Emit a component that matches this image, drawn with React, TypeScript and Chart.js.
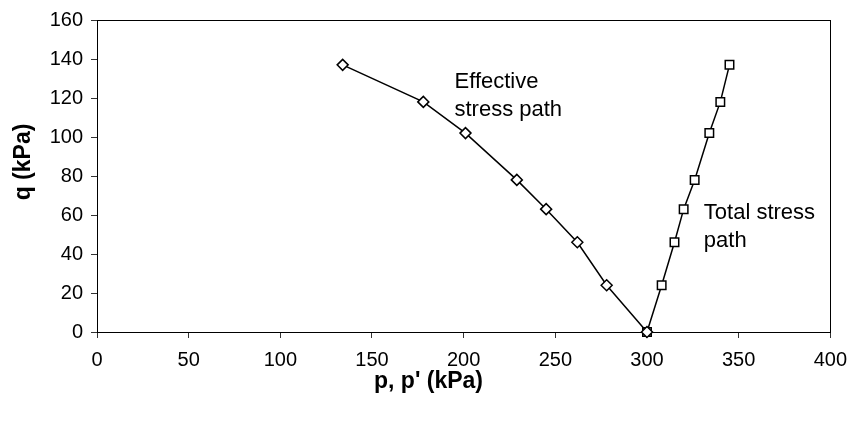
import React, { useEffect, useRef } from "react";
import { Chart, registerables } from "chart.js";

Chart.register(...registerables);

// Deviator stress q (kPa) at each loading stage, shared by both paths
const qValues = [0, 24, 46, 63, 78, 102, 118, 137];
// Mean effective stress p' (kPa)
const effectiveP = [300, 278, 262, 245, 229, 201, 178, 134];
// Mean total stress p (kPa)
const totalP = [300, 308, 315, 320, 326, 334, 340, 345];

const xMin = 0;
const xMax = 400;
const xStep = 50;
const yMin = 0;
const yMax = 160;
const yStep = 20;

const xTitle = "p, p' (kPa)";
const yTitle = "q (kPa)";
const effectiveLabel = ["Effective", "stress path"];
const totalLabel = ["Total stress", "path"];

const FONT = "'Liberation Sans', Arial, Helvetica, sans-serif";

const framePlugin = {
  id: "frame",
  beforeDatasetsDraw(chart: any) {
    const { ctx, chartArea } = chart;
    ctx.save();
    ctx.strokeStyle = "#000";
    ctx.lineWidth = 1;
    ctx.strokeRect(
      Math.round(chartArea.left) + 0.5,
      Math.round(chartArea.top) + 0.5,
      Math.round(chartArea.right - chartArea.left),
      Math.round(chartArea.bottom - chartArea.top)
    );
    ctx.restore();
  },
  afterDraw(chart: any) {
    const { ctx, scales, width } = chart;
    const xs = scales.x;
    const ys = scales.y;
    ctx.save();
    ctx.fillStyle = "#000";

    // axis titles
    ctx.font = `bold 23px ${FONT}`;
    ctx.textAlign = "center";
    ctx.textBaseline = "middle";
    ctx.fillText(xTitle, width / 2, 382);
    ctx.save();
    ctx.translate(24, 162);
    ctx.rotate(-Math.PI / 2);
    ctx.fillText(yTitle, 0, 0);
    ctx.restore();

    // path annotations anchored in data space
    ctx.font = `22px ${FONT}`;
    ctx.textAlign = "left";
    ctx.textBaseline = "alphabetic";
    const drawLines = (lines: string[], p: number, q: number) => {
      const x = xs.getPixelForValue(p);
      const y = ys.getPixelForValue(q);
      lines.forEach((s, i) => ctx.fillText(s, x, y + i * 28));
    };
    drawLines(effectiveLabel, 195, 125);
    drawLines(totalLabel, 331, 58);
    ctx.restore();
  },
};

export default function App() {
  const ref = useRef<HTMLCanvasElement>(null);

  useEffect(() => {
    if (!ref.current) return;
    const toPoints = (ps: number[]) => ps.map((p, i) => ({ x: p, y: qValues[i] }));
    const chart = new Chart(ref.current, {
      type: "line",
      data: {
        datasets: [
          {
            label: "Effective stress path",
            data: toPoints(effectiveP),
            borderColor: "#000",
            borderWidth: 1.5,
            pointStyle: "rectRot",
            pointRadius: 5.5,
            pointBorderWidth: 1.5,
            pointBackgroundColor: "#fff",
            pointBorderColor: "#000",
            showLine: true,
            clip: false,
          },
          {
            label: "Total stress path",
            data: toPoints(totalP),
            borderColor: "#000",
            borderWidth: 1.5,
            pointStyle: "rect",
            pointRadius: 6,
            pointBorderWidth: 1.5,
            pointBackgroundColor: "#fff",
            pointBorderColor: "#000",
            showLine: true,
            clip: false,
          },
        ],
      },
      options: {
        animation: false,
        responsive: false,
        devicePixelRatio: 1,
        layout: { padding: { top: 19, right: 20, left: 0, bottom: 0 } },
        plugins: {
          legend: { display: false },
          tooltip: { enabled: false },
        },
        elements: { line: { tension: 0 } },
        scales: {
          x: {
            type: "linear",
            min: xMin,
            max: xMax,
            border: { display: false },
            grid: {
              drawOnChartArea: false,
              drawTicks: true,
              tickLength: 6,
              tickColor: "#333",
            },
            ticks: {
              stepSize: xStep,
              color: "#000",
              padding: 10,
              maxRotation: 0,
              font: { family: FONT, size: 20 },
            },
            afterFit(s: any) {
              s.height = 89;
            },
          },
          y: {
            type: "linear",
            min: yMin,
            max: yMax,
            border: { display: false },
            grid: {
              drawOnChartArea: false,
              drawTicks: true,
              tickLength: 6,
              tickColor: "#333",
            },
            ticks: {
              stepSize: yStep,
              color: "#000",
              padding: 8,
              font: { family: FONT, size: 20 },
            },
            afterFit(s: any) {
              s.width = 97;
            },
          },
        },
      },
      plugins: [framePlugin],
    });
    return () => chart.destroy();
  }, []);

  return (
    <div style={{ position: "fixed", left: 0, top: 0, width: 857, height: 421, background: "#fff" }}>
      <canvas ref={ref} width={857} height={421} style={{ display: "block", width: 857, height: 421 }} />
    </div>
  );
}
